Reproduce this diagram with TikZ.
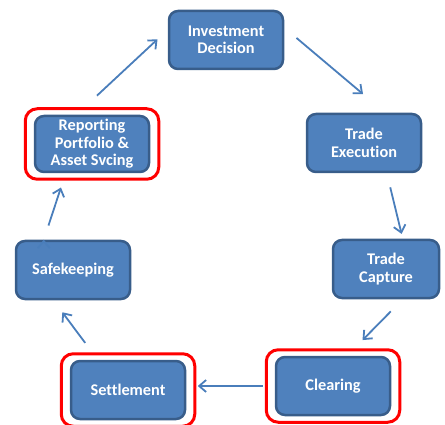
\documentclass[tikz,border=0pt]{standalone}
\usepackage{fontspec}
\setmainfont[Ligatures=NoCommon]{Carlito}
\usetikzlibrary{arrows.meta,fit}
\definecolor{boxfill}{HTML}{4F81BD}
\definecolor{boxline}{HTML}{385D8A}
\definecolor{flowline}{HTML}{4A7EBB}

\begin{document}
\begin{tikzpicture}[x=1pt,y=-1pt,
    stage/.style={draw=boxline, line width=2.5pt, fill=boxfill, rounded corners=9pt,
      text=white, font=\bfseries\fontsize{16.3}{17.5}\selectfont, align=center,
      minimum width=114pt, minimum height=58pt, inner sep=0pt},
    hilite/.style={draw=red, line width=3pt, rounded corners=12pt,
      inner xsep=8.5pt, inner ysep=6pt},
    flow/.style={->, draw=flowline, line width=1.8pt, >={Straight Barb[length=7pt,width=12pt]}}]
            \useasboundingbox (0,0) rectangle (445,425);
            \node[stage] (inv) at (226,40) {Investment\\Decision};
            \node[stage] (exe) at (364,143) {Trade\\Execution};
            \node[stage, minimum width=106pt] (cap) at (386,269) {Trade\\Capture};
            \node[stage] (clr) at (333,386) {Clearing};
            \node[stage] (set) at (128,390) {Settlement};
            \node[stage] (safe) at (73,270) {Safekeeping};
            \node[stage, minimum height=56pt] (rep) at (92,144) {Reporting\\Portfolio \&\\Asset Svcing};
            \node[hilite, fit=(rep)] (repbox) {};
            \node[hilite, fit=(clr)] (clrbox) {};
            \node[hilite, fit=(set)] (setbox) {};
            \path[flow] (rep.118) edge[shorten <=28pt, shorten >=14pt] (inv.170)
                (inv.12) edge[shorten <=16pt, shorten >=29pt] (exe.55)
                (exe.307) edge[shorten <=14.5pt, shorten >=5pt] (cap.61)
                (cap.299) edge[shorten <=17pt, shorten >=22pt] (clr.65)
                (clr.west) edge[shorten <=12pt, shorten >=11.5pt] (clr.west -| set.east)
                (set.135) edge[shorten <=21pt, shorten >=15pt] (safe.237)
                (safe.134) edge[shorten <=15pt, shorten >=15pt] (rep.228);
        \end{tikzpicture}
\end{document}
